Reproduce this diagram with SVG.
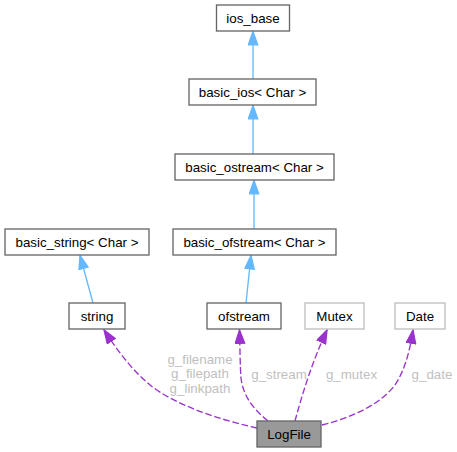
<svg xmlns="http://www.w3.org/2000/svg" width="457" height="452" viewBox="0 0 457 452">
<style>
.box{fill:#ffffff;stroke:#666666;stroke-width:1.33}
.lbox{fill:#ffffff;stroke:#bfbfbf;stroke-width:1.33}
.main{fill:#999999;stroke:#666666;stroke-width:1.33}
.t{font-family:"Liberation Sans",Arial,Helvetica,sans-serif;font-size:13.33px;fill:#000000;text-anchor:middle}
.lbl{font-family:"Liberation Sans",Arial,Helvetica,sans-serif;font-size:13.33px;fill:#bfbfbf;text-anchor:middle}
.inh{fill:none;stroke:#63b8ff;stroke-width:1.33;marker-end:url(#ab)}
.use{fill:none;stroke:#9a32cd;stroke-width:1.33;stroke-dasharray:6.7,2.7;marker-end:url(#ap)}
</style>
<defs>
<marker id="ab" markerUnits="userSpaceOnUse" markerWidth="15" markerHeight="11" refX="13.3" refY="4.7" orient="auto" viewBox="-0.7 -0.7 15 11">
<path d="M0,0 L13.3,4.7 L0,9.4 z" fill="#63b8ff" stroke="#63b8ff" stroke-width="1.33"/>
</marker>
<marker id="ap" markerUnits="userSpaceOnUse" markerWidth="15" markerHeight="11" refX="13.3" refY="4.7" orient="auto" viewBox="-0.7 -0.7 15 11">
<path d="M0,0 L13.3,4.7 L0,9.4 z" fill="#9a32cd" stroke="#9a32cd" stroke-width="1.33"/>
</marker>
</defs>
<g id="edges">
<path class="inh" d="M253,79 L253,31.5"/>
<path class="inh" d="M253,154 L253,105.5"/>
<path class="inh" d="M254,229 L254,180.5"/>
<path class="inh" d="M246,303 L251,255.5"/>
<path class="inh" d="M93,303 L80,255.5"/>
<path class="use" d="M257,428 C220,420 175,405 150,385 C132,370 117,350 104,330"/>
<path class="use" d="M268,421 C252,408 243,395 241,378 C240,365 240,345 239.5,330"/>
<path class="use" d="M295,421 C302,395 312,362 327,330"/>
<path class="use" d="M322,425 C350,418 380,405 395,385 C405,370 410,350 413,330"/>
<text class="lbl" x="200" y="363.5">g_filename</text>
<text class="lbl" x="200" y="378">g_filepath</text>
<text class="lbl" x="200" y="392.5">g_linkpath</text>
<text class="lbl" x="279" y="378.5">g_stream</text>
<text class="lbl" x="351.5" y="378.5">g_mutex</text>
<text class="lbl" x="432" y="378.5">g_date</text>
</g>
<g id="ios_base"><rect class="box" x="216.5" y="5" width="73" height="26"/><text class="t" x="253" y="22.5">ios_base</text></g>
<g id="basic_ios"><rect class="box" x="189" y="79" width="127" height="26"/><text class="t" x="252.5" y="96.5">basic_ios&lt; Char &gt;</text></g>
<g id="basic_ostream"><rect class="box" x="175" y="154" width="159" height="26"/><text class="t" x="254.5" y="171.5">basic_ostream&lt; Char &gt;</text></g>
<g id="basic_ofstream"><rect class="box" x="173" y="229" width="163" height="26"/><text class="t" x="254.5" y="246.5">basic_ofstream&lt; Char &gt;</text></g>
<g id="basic_string"><rect class="box" x="5" y="229" width="144" height="26"/><text class="t" x="77" y="246.5">basic_string&lt; Char &gt;</text></g>
<g id="string"><rect class="box" x="69" y="303" width="56" height="26"/><text class="t" x="97" y="320.5">string</text></g>
<g id="ofstream"><rect class="box" x="207" y="303" width="74" height="26"/><text class="t" x="244" y="320.5">ofstream</text></g>
<g id="Mutex"><rect class="lbox" x="305" y="303" width="59" height="26"/><text class="t" x="334.5" y="320.5">Mutex</text></g>
<g id="Date"><rect class="lbox" x="395" y="303" width="50" height="26"/><text class="t" x="420" y="320.5">Date</text></g>
<g id="LogFile"><rect class="main" x="257" y="421" width="64" height="26"/><text class="t" x="289" y="438.5">LogFile</text></g>
</svg>
